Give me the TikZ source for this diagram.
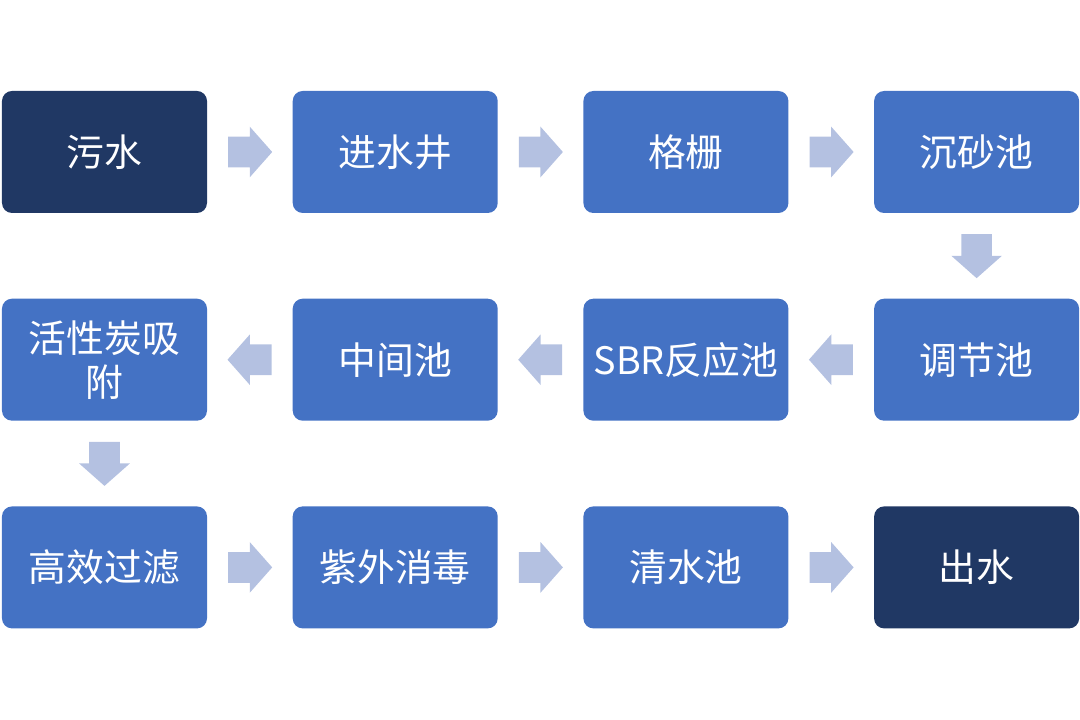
\documentclass[tikz,border=0pt]{standalone}
\usepackage{fontspec}
\newfontfamily\cjk{Noto Sans CJK SC}
\usetikzlibrary{positioning, shapes.arrows}
\definecolor{boxblue}{HTML}{4472C4}
\definecolor{boxdark}{HTML}{203864}
\definecolor{arrowblue}{HTML}{B4C1E1}
\tikzstyle{base} = [minimum width=4.1cm, minimum height=2.44cm, node distance=1.7cm, text centered, align=center, rounded corners=0.2cm, text=white, font=\cjk\fontsize{21.5}{25}\selectfont, inner sep=3pt]
\tikzstyle{stage} = [base, rectangle, fill=boxblue]
\tikzstyle{ends} = [base, rectangle, fill=boxdark]
\tikzstyle{flow} = [single arrow, fill=arrowblue, minimum height=0.88cm, inner xsep=0pt, inner ysep=0.3cm, single arrow head extend=0.2cm, single arrow tip angle=97, sloped, allow upside down, pos=0.241, anchor=tail]
\begin{document}
\begin{tikzpicture}

\useasboundingbox (0,0) rectangle (21.6,14.38);

\node (SEWAGE) [ends] at (2.09,11.34) {污水};
\node (INLET_WELL) [stage, right=of SEWAGE] {进水井};
\node (SCREEN) [stage, right=of INLET_WELL] {格栅};
\node (GRIT_TANK) [stage, right=of SCREEN] {沉砂池};

\node (EQUAL_TANK) [stage, below=of GRIT_TANK] {调节池};
\node (SBR_TANK) [stage, left=of EQUAL_TANK] {SBR反应池};
\node (MID_TANK) [stage, left=of SBR_TANK] {中间池};
\node (CARBON) [stage, left=of MID_TANK] {活性炭吸\\附};

\node (FILTER) [stage, below=of CARBON] {高效过滤};
\node (UV) [stage, right=of FILTER] {紫外消毒};
\node (CLEAR_TANK) [stage, right=of UV] {清水池};
\node (OUTLET) [ends, right=of CLEAR_TANK] {出水};

\path (SEWAGE) -- node [flow] {} (INLET_WELL);
\path (INLET_WELL) -- node [flow] {} (SCREEN);
\path (SCREEN) -- node [flow] {} (GRIT_TANK);
\path (GRIT_TANK) -- node [flow] {} (EQUAL_TANK);

\path (EQUAL_TANK) -- node [flow] {} (SBR_TANK);
\path (SBR_TANK) -- node [flow] {} (MID_TANK);
\path (MID_TANK) -- node [flow] {} (CARBON);
\path (CARBON) -- node [flow] {} (FILTER);

\path (FILTER) -- node [flow] {} (UV);
\path (UV) -- node [flow] {} (CLEAR_TANK);
\path (CLEAR_TANK) -- node [flow] {} (OUTLET);

\end{tikzpicture}
\end{document}
